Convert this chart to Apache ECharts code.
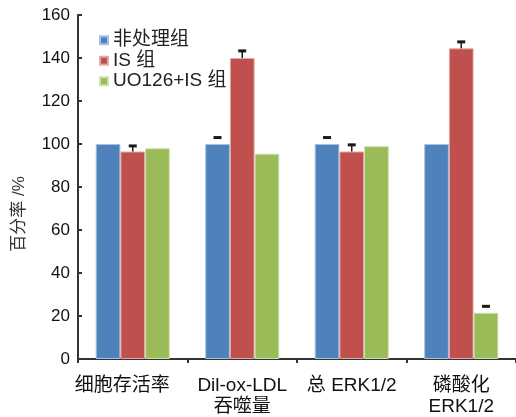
<!DOCTYPE html>
<html><head><meta charset="utf-8">
<script src="https://cdn.jsdelivr.net/npm/echarts@6/dist/echarts.min.js"></script>
<style>html,body{margin:0;padding:0;background:#fff}#c{width:516px;height:417px}</style>
</head><body><div id="c"></div>
<script>
var categories = ['细胞存活率', 'Dil-ox-LDL\n吞噬量', '总 ERK1/2', '磷酸化\nERK1/2'];
var seriesNames = ['非处理组', 'IS 组', 'UO126+IS 组'];
var blueVals = [100, 100, 100, 100];
var redVals = [96.5, 140, 96.5, 144.5];
var greenVals = [98, 95.5, 99, 21.5];
var blueErr = [0, 3, 3, 0];
var redErr = [2.6, 3.3, 3.1, 3];
var greenErr = [0, 0, 0, 3];
var yTicks = [0, 20, 40, 60, 80, 100, 120, 140, 160];

var colors = ['#4F81BD', '#C0504D', '#9BBB59'];
var borders = ['#A9C1E0', '#E3A9A7', '#CFE0AE'];
var vals = [blueVals, redVals, greenVals];
var errs = [blueErr, redErr, greenErr];
var stems = [false, true, false];
var BW = 24.7;
var font = '"Liberation Sans", "Noto Sans CJK SC", sans-serif';

var chart = echarts.init(document.getElementById('c'));
var series = [];
vals.forEach(function (v, i) {
  series.push({
    name: seriesNames[i], type: 'bar', data: v, barWidth: BW, barGap: '0%',
    itemStyle: { color: colors[i], borderColor: borders[i], borderWidth: 1 },
    z: 2
  });
});
vals.forEach(function (v, i) {
  var d = v.map(function (val, k) { return [k, val, errs[i][k]]; }).filter(function (x) { return x[2] > 0; });
  series.push({
    type: 'custom', data: d, z: 5, silent: true,
    renderItem: function (params, api) {
      var k = api.value(0), val = api.value(1), e = api.value(2);
      var top = api.coord([k, val + e]);
      var base = api.coord([k, val]);
      var x = top[0] + (i - 1) * BW;
      var children = [{
        type: 'line', shape: { x1: x - 4, y1: top[1], x2: x + 4, y2: top[1] },
        style: { stroke: '#1a1a1a', lineWidth: 3 }
      }];
      if (stems[i]) {
        children.push({
          type: 'line', shape: { x1: x, y1: top[1], x2: x, y2: base[1] },
          style: { stroke: '#1a1a1a', lineWidth: 1.5 }
        });
      }
      return { type: 'group', children: children };
    }
  });
});

chart.setOption({
  animation: false,
  textStyle: { fontFamily: font },
  legend: {
    data: seriesNames, orient: 'vertical', left: 99, top: 30, padding: 0,
    itemWidth: 8, itemHeight: 8, itemGap: 0, icon: 'rect',
    textStyle: { fontSize: 19, lineHeight: 20.5, color: '#222', fontFamily: font }
  },
  grid: { left: 78, top: 15, bottom: 55, width: 444 },
  xAxis: {
    type: 'category', data: categories,
    axisLine: { lineStyle: { color: '#333', width: 2 } },
    axisTick: { show: true, inside: false, length: 4, lineStyle: { color: '#333', width: 2 } },
    axisLabel: {
      fontSize: 19, lineHeight: 21, color: '#111', margin: 16, interval: 0,
      formatter: function (v, idx) { return idx === 0 ? '{a|' + v + '}' : v; },
      rich: { a: { fontSize: 19, lineHeight: 21, color: '#111', padding: [0, 21, 0, 0] } }
    }
  },
  yAxis: {
    type: 'value', min: 0, max: 160, interval: 20,
    name: '百分率 /%', nameLocation: 'middle', nameGap: 50,
    nameTextStyle: { fontSize: 17, color: '#333', padding: [0, 54, 0, 0] },
    axisLine: { show: true, lineStyle: { color: '#333', width: 2 } },
    axisTick: { show: true, inside: true, length: 4, lineStyle: { color: '#333', width: 2 } },
    splitLine: { show: false },
    axisLabel: {
      fontSize: 17, color: '#111', margin: 8, padding: [6, 0, 0, 0],
      formatter: function (v) { return yTicks.indexOf(v) >= 0 ? String(v) : ''; }
    }
  },
  series: series
});
</script></body></html>
